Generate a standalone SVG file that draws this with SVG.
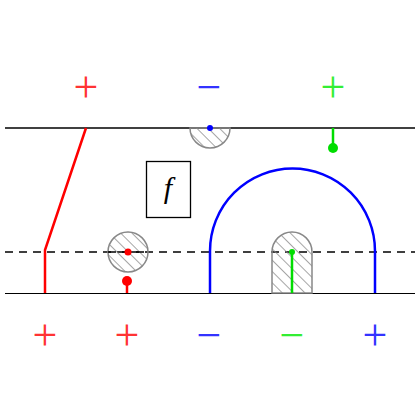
<svg xmlns="http://www.w3.org/2000/svg" width="420" height="420" viewBox="0 0 420 420">
<style>
.sgn{font-family:"Liberation Serif",serif;font-size:44px;text-anchor:middle}
.hat{fill:url(#hatch);stroke:#888;stroke-width:1.5}
</style>
<defs>
<pattern id="hatch" patternUnits="userSpaceOnUse" width="8" height="8" patternTransform="rotate(-45)">
<line x1="0" y1="0" x2="0" y2="8" stroke="#888" stroke-width="1.5"/>
</pattern>
</defs>
<rect width="420" height="420" fill="#fff"/>
<g id="connectors" fill="none">
<line x1="5" y1="128" x2="415" y2="128" stroke="#000" stroke-width="1.6"/>
<line x1="5" y1="293.5" x2="415" y2="293.5" stroke="#000" stroke-width="1"/>
<line x1="5" y1="252" x2="415" y2="252" stroke="#000" stroke-width="1.6" stroke-dasharray="8,6"/>
<polyline points="86,128 45,250 45,293" stroke="#f00" stroke-width="2.5"/>
<path d="M210,293 V251 A82.5,82.5 0 0 1 375,251 V293" stroke="#00f" stroke-width="2.5"/>
</g>
<g id="top-half">
<path class="hat" d="M190,128 A20,20 0 0 0 230,128 Z"/>
<circle cx="210" cy="128" r="3" fill="#00f"/>
</g>
<g id="circle-node">
<circle class="hat" cx="128" cy="252" r="20"/>
<line x1="108" y1="252" x2="148" y2="252" stroke="#000" stroke-width="1.6" stroke-dasharray="8,6"/>
<circle cx="128" cy="252" r="3.5" fill="#f00"/>
<line x1="127" y1="281" x2="127" y2="293" stroke="#f00" stroke-width="2.5"/>
<circle cx="127" cy="281" r="5" fill="#f00"/>
</g>
<g id="green-top">
<line x1="333" y1="128" x2="333" y2="148" stroke="#0d0" stroke-width="2.5"/>
<circle cx="333" cy="148" r="5" fill="#0d0"/>
</g>
<g id="arch-node">
<path class="hat" d="M272,293 V252 A20,20 0 0 1 312,252 V293 Z"/>
<line x1="292" y1="252" x2="292" y2="293" stroke="#0d0" stroke-width="2.5"/>
<circle cx="292" cy="252" r="3" fill="#0d0"/>
</g>
<g id="f-box">
<rect x="146.5" y="161.5" width="44" height="56" fill="#fff" stroke="#000" stroke-width="1.3"/>
<text x="168" y="198" font-family="Liberation Serif,serif" font-style="italic" font-size="30" text-anchor="middle">f</text>
</g>
<g id="signs">
<text class="sgn" x="86" y="102" fill="#f33">+</text>
<text class="sgn" x="209" y="102" fill="#33f">−</text>
<text class="sgn" x="333" y="102" fill="#3e3">+</text>
<text class="sgn" x="45" y="350" fill="#f33">+</text>
<text class="sgn" x="127" y="350" fill="#f33">+</text>
<text class="sgn" x="209" y="350" fill="#33f">−</text>
<text class="sgn" x="292" y="350" fill="#3e3">−</text>
<text class="sgn" x="375" y="350" fill="#33f">+</text>
</g>
</svg>
